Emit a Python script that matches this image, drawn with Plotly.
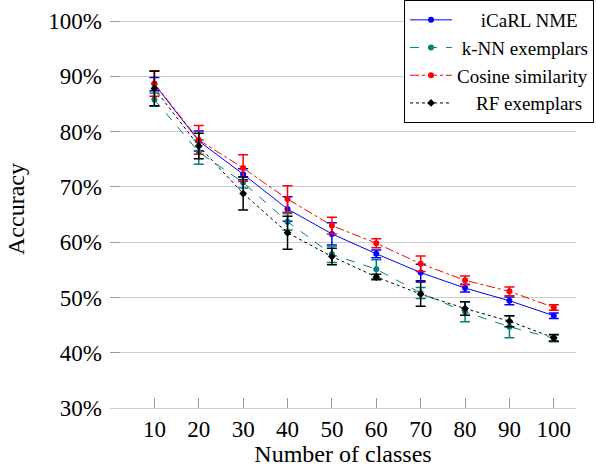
import plotly.graph_objects as go

classes = [10, 20, 30, 40, 50, 60, 70, 80, 90, 100]

icarl_nme = [88.6, 78.3, 72.3, 66.0, 61.5, 57.9, 54.5, 51.7, 49.4, 46.7]
icarl_err = [1.2, 1.8, 1.0, 2.2, 2.0, 0.7, 1.5, 0.7, 0.7, 0.5]

knn = [85.8, 76.3, 70.8, 63.7, 57.8, 55.1, 50.8, 47.4, 44.7, 42.6]
knn_err = [1.2, 2.2, 1.0, 1.5, 1.5, 1.7, 1.0, 1.8, 2.0, 0.6]

cosine = [88.7, 78.5, 73.4, 67.8, 63.0, 59.8, 56.1, 53.1, 51.1, 48.2]
cosine_err = [2.3, 2.6, 2.4, 2.4, 1.5, 0.8, 1.4, 0.8, 0.8, 0.5]

rf = [87.8, 77.4, 68.8, 61.7, 57.4, 53.7, 50.6, 48.0, 45.7, 42.7]
rf_err = [3.1, 2.3, 3.0, 3.0, 1.5, 0.5, 2.2, 1.2, 1.0, 0.6]

y_ticks = [30, 40, 50, 60, 70, 80, 90, 100]
y_tick_labels = [f"{v}%" for v in y_ticks]

FONT = "Liberation Serif, Times New Roman, serif"
NB = "\u00a0"

series = [
    (NB * 5 + "iCaRL NME", icarl_nme, icarl_err, "#0000ff", "solid", "circle", 6),
    (NB * 1 + "k-NN exemplars", knn, knn_err, "#008080", "dash", "circle", 6),
    ("Cosine similarity", cosine, cosine_err, "#ff0000", "dashdot", "circle", 6),
    (NB * 4 + "RF exemplars", rf, rf_err, "#000000", "dot", "diamond", 6),
]

fig = go.Figure()
for name, vals, errs, color, dash, sym, size in series:
    fig.add_trace(go.Scatter(
        x=classes, y=vals, name=name, mode="lines+markers",
        line=dict(color=color, width=1, dash=dash),
        marker=dict(color=color, size=size, symbol=sym),
        error_y=dict(type="data", array=errs, visible=True,
                     color=color, thickness=1.5, width=5),
    ))

fig.update_layout(
    width=596, height=467,
    margin=dict(l=110, r=20, t=10, b=59, autoexpand=False),
    paper_bgcolor="white", plot_bgcolor="white",
    font=dict(family=FONT, size=23, color="black"),
    showlegend=True,
    legend=dict(
        x=1.0 + 18 / 466, xref="paper", xanchor="right",
        y=1.0 + 10 / 398, yref="paper", yanchor="top",
        bgcolor="white", bordercolor="black", borderwidth=1,
        font=dict(family=FONT, size=19),
        tracegroupgap=0, itemwidth=42,
    ),
    xaxis=dict(
        range=[0, 105], tickvals=classes,
        ticks="inside", ticklen=10, tickcolor="#999999", tickwidth=1,
        showgrid=False, zeroline=False,
        showline=True, linecolor="#cccccc", linewidth=1,
        title=dict(text="Number of classes", font=dict(size=24), standoff=10),
        tickfont=dict(size=23),
    ),
    yaxis=dict(
        range=[30, 102], tickvals=y_ticks, ticktext=y_tick_labels,
        ticks="inside", ticklen=10, tickcolor="#999999", tickwidth=1,
        ticklabelstandoff=7,
        showgrid=True, gridcolor="#cccccc", gridwidth=1,
        zeroline=False, showline=False,
        title=dict(text="Accuracy", font=dict(size=24), standoff=16),
        tickfont=dict(size=23),
    ),
)

fig.write_html("out.html")
